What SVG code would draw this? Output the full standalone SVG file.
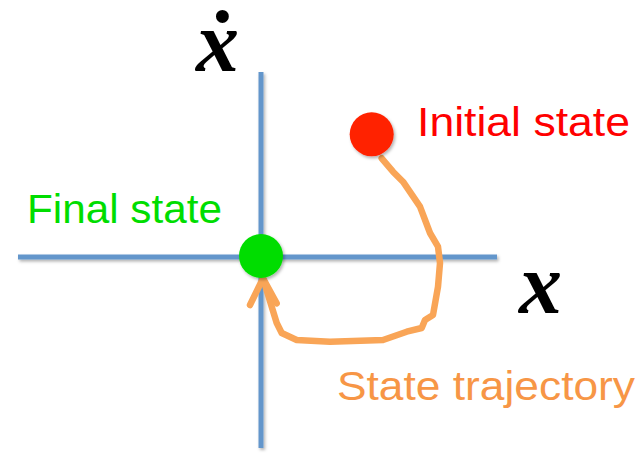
<svg xmlns="http://www.w3.org/2000/svg" width="641" height="453" viewBox="0 0 641 453">
<style>
.axis{stroke:#6396cb;stroke-width:5;fill:none}
.traj{stroke:#f9a557;stroke-width:6.5;fill:none;stroke-linecap:round;stroke-linejoin:round}
.lbl{font-family:"Liberation Sans","Open Sans",sans-serif;font-size:41px}
.math{font-family:"Liberation Serif","DejaVu Serif",serif;font-style:italic;font-weight:bold;font-size:86px;fill:#000}
</style>
<defs>
<filter id="sh" x="-30%" y="-30%" width="160%" height="160%">
<feDropShadow dx="1.5" dy="2" stdDeviation="1.5" flood-color="#000" flood-opacity="0.3"/>
</filter>
</defs>
<g id="axes" filter="url(#sh)">
<line class="axis" x1="261" y1="72" x2="261" y2="448"/>
<line class="axis" x1="18" y1="257" x2="497" y2="257"/>
</g>
<g id="connectors">
<path class="traj" d="M381.7,158.3 L393,171.7 L403,181.7 L420,206.7 L430,233 L438,246.7 L440,263 L438,286.7 L433,315 L425,320 L421.7,328 L406.7,331.7 L383,340 L330,341.7 L296.7,340 L281.7,333 L276.7,323 L263,278.3"/>
<path class="traj" d="M250,305 L263,278.3 L276.7,303.3"/>
</g>
<g id="final-state">
<circle cx="261" cy="256" r="22" fill="#00dd00" filter="url(#sh)"/>
<text class="lbl" x="27" y="223" fill="#00dd00" textLength="195" lengthAdjust="spacingAndGlyphs">Final state</text>
</g>
<g id="initial-state">
<circle cx="371.7" cy="134.3" r="22" fill="#ff2200" filter="url(#sh)"/>
<text class="lbl" x="417" y="136" fill="#ff0000" textLength="213" lengthAdjust="spacingAndGlyphs">Initial state</text>
</g>
<g id="trajectory-label">
<text class="lbl" x="337" y="400" fill="#f79646" textLength="298" lengthAdjust="spacingAndGlyphs">State trajectory</text>
</g>
<g id="x-dot-label">
<text class="math" x="196" y="71">ẋ</text>
</g>
<g id="x-label">
<text class="math" x="519" y="313">x</text>
</g>
</svg>
